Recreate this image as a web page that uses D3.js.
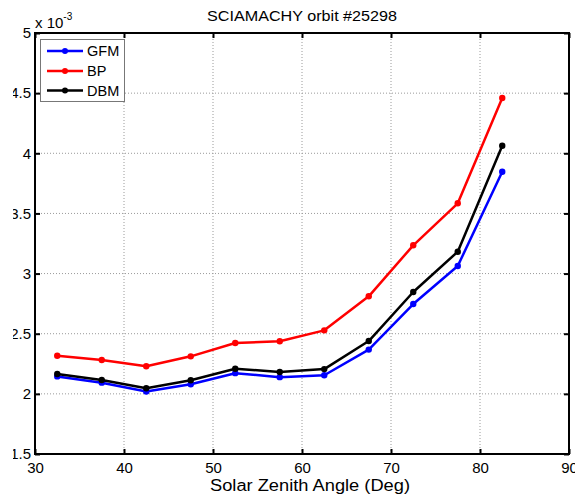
<!DOCTYPE html>
<html>
<head>
<meta charset="utf-8">
<script src="https://cdn.jsdelivr.net/npm/d3@7"></script>
<style>
  html, body { margin: 0; padding: 0; background: #fff; }
  svg { display: block; font-family: "Liberation Sans", Arial, Helvetica, sans-serif; }
</style>
</head>
<body>
<svg id="chart" width="575" height="497"></svg>
<script>
// Solar zenith angle bins (deg)
const sza = [32.5, 37.5, 42.5, 47.5, 52.5, 57.5, 62.5, 67.5, 72.5, 77.5, 82.5];
// Retrieved values per method, in units of 1e-3
const gfm = [2.145, 2.093, 2.020, 2.080, 2.172, 2.139, 2.155, 2.368, 2.747, 3.063, 3.846];
const bp  = [2.317, 2.281, 2.229, 2.312, 2.423, 2.437, 2.528, 2.811, 3.235, 3.584, 4.459];
const dbm = [2.165, 2.115, 2.046, 2.113, 2.209, 2.182, 2.206, 2.439, 2.847, 3.182, 4.063];
const seriesNames = ["GFM", "BP", "DBM"];
const seriesColors = ["#0000ff", "#ff0000", "#000000"];
const xTicks = [30, 40, 50, 60, 70, 80, 90];
const yTicks = [1.5, 2, 2.5, 3, 3.5, 4, 4.5, 5];

const svg = d3.select("#chart");
const plotL = 35, plotR = 569, plotT = 33, plotB = 454;

const x = d3.scaleLinear().domain([30, 90]).range([plotL, plotR]);
const y = d3.scaleLinear().domain([1.5, 5]).range([plotB, plotT]);

// the figure's left margin is trimmed, so the y labels are clipped there
svg.append("defs").append("clipPath").attr("id", "trimLeft")
  .append("rect").attr("x", 13).attr("y", 0).attr("width", 562).attr("height", 497);

// dotted grid
const grid = svg.append("g");
grid.selectAll("line.gx").data(xTicks.slice(1, -1)).join("line")
  .attr("x1", d => x(d)).attr("x2", d => x(d))
  .attr("y1", plotT).attr("y2", plotB)
  .attr("stroke", "#9a9a9a").attr("stroke-width", 1).attr("stroke-dasharray", "1,2");
grid.selectAll("line.gy").data(yTicks.slice(1, -1)).join("line")
  .attr("y1", d => y(d)).attr("y2", d => y(d))
  .attr("x1", plotL).attr("x2", plotR)
  .attr("stroke", "#9a9a9a").attr("stroke-width", 1).attr("stroke-dasharray", "1,2");

// axes with inward ticks on all four sides
const fmt = d => d3.format("")(d);
const axB = svg.append("g").attr("transform", `translate(0,${plotB})`)
  .call(d3.axisBottom(x).tickValues(xTicks).tickSizeInner(-5).tickSizeOuter(0).tickPadding(8.5).tickFormat(fmt));
const axT = svg.append("g").attr("transform", `translate(0,${plotT})`)
  .call(d3.axisTop(x).tickValues(xTicks).tickSizeInner(-5).tickSizeOuter(0).tickFormat(""));
const axL = svg.append("g").attr("clip-path", "url(#trimLeft)")
  .append("g").attr("transform", `translate(${plotL},0)`)
  .call(d3.axisLeft(y).tickValues(yTicks).tickSizeInner(-5).tickSizeOuter(0).tickPadding(4).tickFormat(fmt));
const axR = svg.append("g").attr("transform", `translate(${plotR},0)`)
  .call(d3.axisRight(y).tickValues(yTicks).tickSizeInner(-5).tickSizeOuter(0).tickFormat(""));
[axB, axT, axL, axR].forEach(g => {
  g.select(".domain").remove();
  g.selectAll(".tick line").attr("stroke", "#000").attr("stroke-width", 2);
  g.selectAll("text").attr("fill", "#000").style("font-size", "15px")
    .style("font-family", "'Liberation Sans', Arial, sans-serif");
});

// axes box
svg.append("rect").attr("x", plotL).attr("y", plotT)
  .attr("width", plotR - plotL).attr("height", plotB - plotT)
  .attr("fill", "none").attr("stroke", "#000").attr("stroke-width", 2);

// exponent label
const expo = svg.append("text").attr("x", plotL).attr("y", 27.5)
  .style("font-size", "15px").attr("fill", "#000");
expo.append("tspan").text("x 10");
expo.append("tspan").attr("dy", -8).style("font-size", "10px").text("-3");

// title and x label
svg.append("text").attr("x", (plotL + plotR) / 2).attr("y", 20.5)
  .attr("text-anchor", "middle").style("font-size", "15px")
  .attr("textLength", 190).attr("lengthAdjust", "spacingAndGlyphs")
  .text("SCIAMACHY orbit #25298");
svg.append("text").attr("x", 310).attr("y", 490.5)
  .attr("text-anchor", "middle").style("font-size", "16px")
  .attr("textLength", 200).attr("lengthAdjust", "spacingAndGlyphs")
  .text("Solar Zenith Angle (Deg)");

// series
const allSeries = [gfm, bp, dbm];
const line = d3.line().x((d, i) => x(sza[i])).y(d => y(d));
allSeries.forEach((vals, k) => {
  const g = svg.append("g");
  g.append("path").datum(vals).attr("d", line)
    .attr("fill", "none").attr("stroke", seriesColors[k]).attr("stroke-width", 2.5)
    .attr("stroke-linejoin", "round");
  g.selectAll("circle").data(vals).join("circle")
    .attr("cx", (d, i) => x(sza[i])).attr("cy", d => y(d)).attr("r", 3.2)
    .attr("fill", seriesColors[k]);
});

// legend
const lg = svg.append("g");
lg.append("rect").attr("x", 40.5).attr("y", 39.5).attr("width", 84).attr("height", 62)
  .attr("fill", "#fff").attr("stroke", "#777").attr("stroke-width", 1);
const rowY = [51, 71, 90.5];
seriesNames.forEach((name, k) => {
  lg.append("line").attr("x1", 47).attr("x2", 83).attr("y1", rowY[k]).attr("y2", rowY[k])
    .attr("stroke", seriesColors[k]).attr("stroke-width", 2.5);
  lg.append("circle").attr("cx", 65).attr("cy", rowY[k]).attr("r", 3).attr("fill", seriesColors[k]);
  lg.append("text").attr("x", 87).attr("y", rowY[k] + 5).style("font-size", "14.5px").text(name);
});
</script>
</body>
</html>
